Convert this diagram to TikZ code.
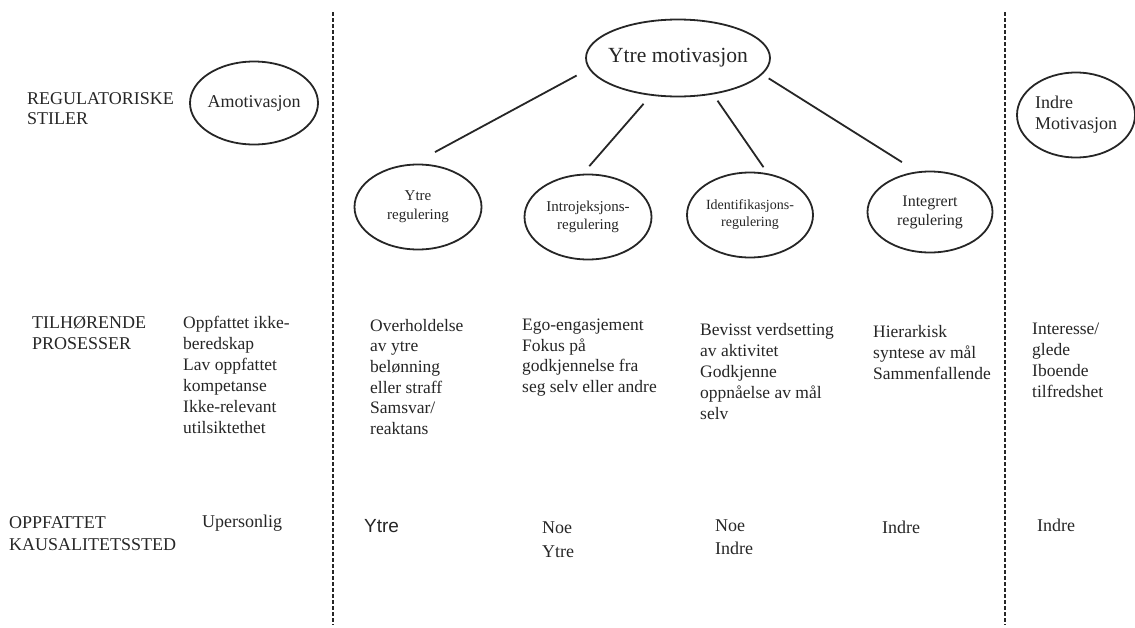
\documentclass[tikz,border=0pt]{standalone}
\usepackage{fontspec}
\setmainfont{Liberation Serif}
\newfontfamily\arialfont{Liberation Sans}
\usetikzlibrary{shapes.geometric}

\newcommand{\fsz}[2]{\fontsize{#1}{#2}\selectfont}

\begin{document}
\begin{tikzpicture}[x=1pt, y=-1pt,
 every node/.style={text=black!85},
 ell/.style={ellipse, draw=black!85, line width=1.8pt, inner sep=-6pt, align=center},
 txt/.style={anchor=north west, inner sep=0pt, align=left},
 link/.style={draw=black!85, line width=1.8pt},
 sep/.style={draw=black!85, line width=1.6pt, dash pattern=on 3.5pt off 2.5pt}]
 \useasboundingbox (0,0) rectangle (1135,627);
 % skillelinjer
 \draw[sep] (333,12) coordinate (SA) -- (333,625) coordinate (SB);
 \draw[sep] (1005,12) coordinate (SC) -- (1005,625) coordinate (SD);
 % regulatoriske stiler
 \node[txt, font={\fsz{18}{20}}] (regstil) at (27,92) {REGULATORISKE\\STILER};
 \node[ell, minimum width=128pt, minimum height=83pt, font={\fsz{18}{21}}] (amo) at (254,103) {Amotivasjon};
 \node[ell, minimum width=184pt, minimum height=77pt, font={\fsz{21.6}{25}}] (ymot) at (678,58) {Ytre motivasjon};
 \node[ell, minimum width=118pt, minimum height=85pt, font={\fsz{18}{21}}, align=left] (imot) at (1076,115) {Indre\\Motivasjon};
 \node[ell, minimum width=127pt, minimum height=85pt, font={\fsz{15}{19}}] (ytrereg) at (418,207) {Ytre\\regulering};
 \node[ell, minimum width=127pt, minimum height=85pt, font={\fsz{15}{18}}] (introreg) at (588,217) {Introjeksjons-\\regulering};
 \node[ell, minimum width=126pt, minimum height=85pt, font={\fsz{14}{17}}] (identreg) at (750,215) {Identifikasjons-\\regulering};
 \node[ell, minimum width=125pt, minimum height=81pt, font={\fsz{16}{19}}] (integreg) at (930,212) {Integrert\\regulering};
 \draw[link, shorten <=13.8pt, shorten >=24.5pt] (ymot.187) -- (ytrereg.96);
 \draw[link, shorten <=10.8pt, shorten >=10.1pt] (ymot.234) -- (introreg.97);
 \draw[link, shorten <=7.6pt, shorten >=7.4pt] (ymot.314) -- (identreg.67);
 \draw[link, shorten <=7.4pt, shorten >=17.6pt] (ymot.349) -- (integreg.108);
 % tilhorende prosesser
 \node[txt, font={\fsz{18}{21}}] (tilhpros) at (32,316) {TILHØRENDE\\PROSESSER};
 \node[txt, font={\fsz{17.5}{21}}] (amopros) at (183,316) {Oppfattet ikke-\\beredskap\\Lav oppfattet\\kompetanse\\Ikke-relevant\\utilsiktethet};
 \node[txt, font={\fsz{17.5}{20.6}}] (ytrepros) at (370,319) {Overholdelse\\av ytre\\belønning\\eller straff\\Samsvar/\\reaktans};
 \node[txt, font={\fsz{17.5}{20.6}}] (intropros) at (522,319) {Ego-engasjement\\Fokus på\\godkjennelse fra\\seg selv eller andre};
 \node[txt, font={\fsz{17.5}{21}}] (identpros) at (700,323) {Bevisst verdsetting\\av aktivitet\\Godkjenne\\oppnåelse av mål\\selv};
 \node[txt, font={\fsz{17.5}{21}}] (integpros) at (873,325) {Hierarkisk\\syntese av mål\\Sammenfallende};
 \node[txt, font={\fsz{17.5}{21}}] (imotpros) at (1032,323) {Interesse/\\glede\\Iboende\\tilfredshet};
 % kausalitetssted
 \node[txt, font={\fsz{18}{22.5}}] (oppkaus) at (9,516) {OPPFATTET\\KAUSALITETSSTED};
 \node[txt, font={\fsz{18}{22}}] (amokaus) at (202,515) {Upersonlig};
 \node[txt, font={\arialfont\fsz{19}{22}}] (ytrekaus) at (364,519) {Ytre};
 \node[txt, font={\fsz{18}{24}}] (introkaus) at (542,522) {Noe\\Ytre};
 \node[txt, font={\fsz{18}{23}}] (identkaus) at (715,520) {Noe\\Indre};
 \node[txt, font={\fsz{18}{22}}] (integkaus) at (882,521) {Indre};
 \node[txt, font={\fsz{18}{22}}] (imotkaus) at (1037,519) {Indre};
\end{tikzpicture}
\end{document}
